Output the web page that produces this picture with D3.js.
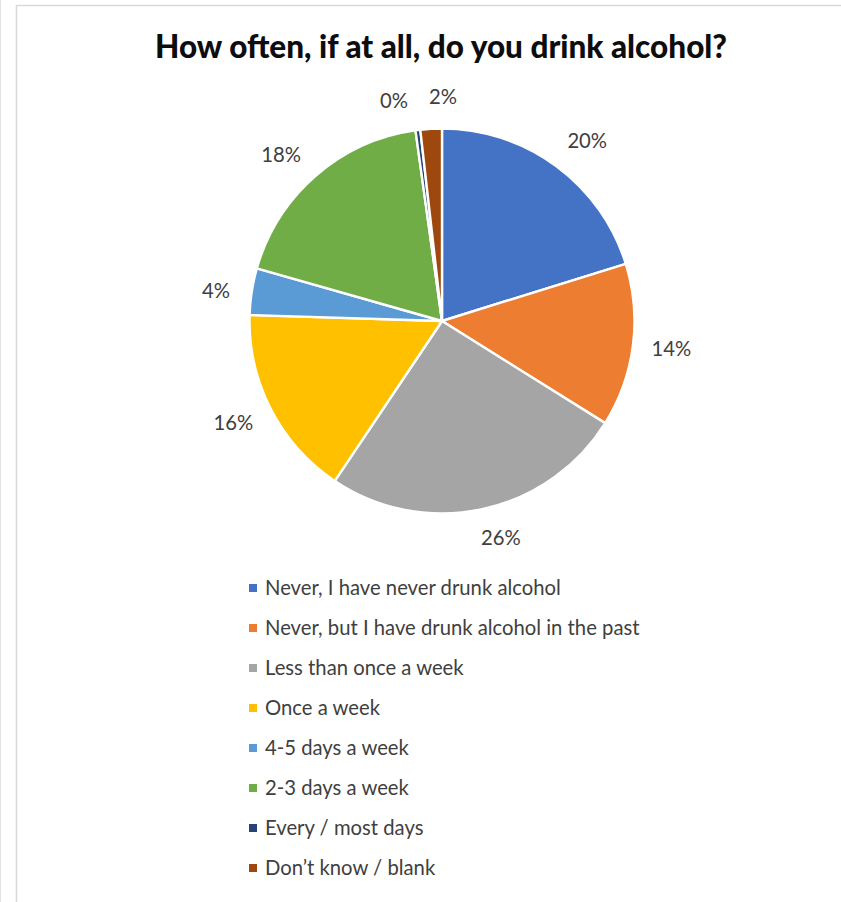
<!DOCTYPE html>
<html><head><meta charset="utf-8">
<script src="https://cdn.jsdelivr.net/npm/d3@7"></script>
<style>html,body{margin:0;padding:0;background:#fff;overflow:hidden}</style>
</head><body>
<svg id="chart" width="841" height="902"></svg>
<script>
// ---- data ----
const categories = [
  "Never, I have never drunk alcohol",
  "Never, but I have drunk alcohol in the past",
  "Less than once a week",
  "Once a week",
  "4-5 days a week",
  "2-3 days a week",
  "Every / most days",
  "Don\u2019t know / blank"
];
const values = [20.2, 13.7, 25.5, 16.1, 3.9, 18.4, 0.4, 1.8];
const colors = ["#4472C4", "#ED7D31", "#A5A5A5", "#FFC000", "#5B9BD5", "#70AD47", "#264478", "#9E480E"];
const title = "How often, if at all, do you drink alcohol?";

// ---- layout (not data) ----
const W = 841, H = 902;
const cx = 442, cy = 321, R = 192.5;
const labelR = 231;
const labelShiftDeg = [2.6, -0.4, -3.1, 1.2, -1.2, -3.1, -5.1, 3.5];
const labelShiftR = [0, 0, -6, 1, -3, 0, -6, -7];
const fontFam = "Lato, 'Open Sans', 'Liberation Sans', sans-serif";

const svg = d3.select("#chart");
svg.append("rect").attr("width", W).attr("height", H).attr("fill", "#fff");
// frame lines
svg.append("line").attr("x1", 0.5).attr("x2", 0.5).attr("y1", 0).attr("y2", H)
  .attr("stroke", "#e3e3e3").attr("stroke-width", 1);
svg.append("path").attr("d", `M16.5,${H}V5.5H${W}`).attr("fill", "none")
  .attr("stroke", "#d9d9d9").attr("stroke-width", 1.6);

// title
const t = svg.append("text").attr("x", cx - 1).attr("y", 58)
  .attr("text-anchor", "middle").attr("font-family", fontFam)
  .attr("font-weight", "900").attr("font-size", 24).attr("fill", "#0d0d0d").text(title);
{
  const w = t.node().getComputedTextLength();
  t.attr("font-size", 24 * 572 / w);
}

const pie = d3.pie().sort(null).value(d => d);
const arcs = pie(values);
const arc = d3.arc().innerRadius(0).outerRadius(R);
const g = svg.append("g").attr("transform", `translate(${cx},${cy})`);
g.selectAll("path").data(arcs).join("path")
  .attr("d", arc).attr("fill", (d, i) => colors[i])
  .attr("stroke", "#fff").attr("stroke-width", 2.4).attr("stroke-linejoin", "round");

// data labels
const fmt = v => Math.round(v) + "%";
g.selectAll("text.lbl").data(arcs).join("text").attr("class", "lbl")
  .each(function (d, i) {
    const a = (d.startAngle + d.endAngle) / 2 + labelShiftDeg[i] * Math.PI / 180;
    const r = labelR + labelShiftR[i];
    d3.select(this).attr("x", r * Math.sin(a)).attr("y", -r * Math.cos(a));
  })
  .attr("dy", "0.35em").attr("text-anchor", "middle")
  .attr("font-family", fontFam).attr("font-size", 16.5).attr("fill", "#404040")
  .text(d => fmt(d.data));

// legend
const legX = 249, legY0 = 588, legStep = 40;
const leg = svg.append("g");
const rows = leg.selectAll("g").data(categories).join("g")
  .attr("transform", (d, i) => `translate(${legX},${legY0 + i * legStep})`);
rows.append("rect").attr("x", 0).attr("y", -4).attr("width", 8).attr("height", 8)
  .attr("fill", (d, i) => colors[i]);
const lt = rows.append("text").attr("x", 16).attr("dy", "0.35em")
  .attr("font-family", fontFam).attr("font-size", 17).attr("fill", "#404040")
  .text(d => d);
{
  const w = lt.nodes()[0].getComputedTextLength();
  const fs = 17 * 296 / w;
  lt.attr("font-size", fs);
  g.selectAll("text.lbl").attr("font-size", fs);
}
</script>
</body></html>
